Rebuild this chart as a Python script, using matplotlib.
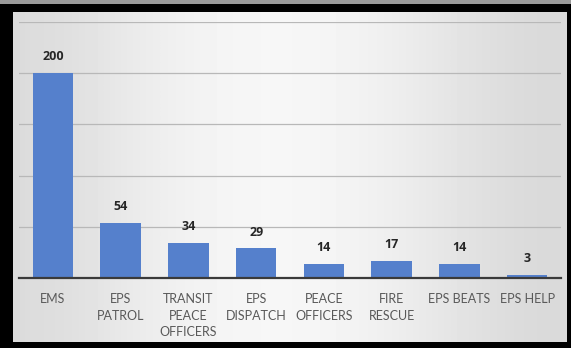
import matplotlib
matplotlib.use("Agg")
import matplotlib.pyplot as plt
from matplotlib.patches import Rectangle
import numpy as np

CATEGORIES = ["EMS", "EPS\nPATROL", "TRANSIT\nPEACE\nOFFICERS", "EPS\nDISPATCH",
              "PEACE\nOFFICERS", "FIRE\nRESCUE", "EPS BEATS", "EPS HELP"]
VALUES = [200, 54, 34, 29, 14, 17, 14, 3]
Y_TICKS = [0, 50, 100, 150, 200, 250]

BAR = "#5580cc"
W, H = 571, 348

plt.rcParams["font.family"] = ["Lato", "DejaVu Sans"]

fig = plt.figure(figsize=(W / 100, H / 100), dpi=100)
fig.patch.set_facecolor("black")

# thin grey strip on top edge, then light-grey panel inside the black frame
fig.patches.append(Rectangle((0, 1 - 4 / H), 1, 4 / H, transform=fig.transFigure,
                             facecolor="#9a9a9a", edgecolor="none", zorder=0))
# subtle horizontal gradient for the panel
grad = np.array([[0.86, 0.92, 0.96, 0.97, 0.95, 0.90, 0.85]])
bg = fig.add_axes([13 / W, 1 - 342 / H, (567 - 13) / W, (342 - 12) / H], zorder=0)
bg.imshow(grad, cmap="gray", vmin=0, vmax=1, aspect="auto",
          interpolation="bicubic", extent=[0, 1, 0, 1])
bg.set_axis_off()

ax = fig.add_axes([19 / W, 1 - 278 / H, (561 - 19) / W, (278 - 22) / H], zorder=1)
ax.patch.set_alpha(0)
x = np.arange(len(VALUES))
bars = ax.bar(x, VALUES, width=0.6, color=BAR, zorder=2)
for b, v in zip(bars, VALUES):
    ax.annotate(f"{v}", (b.get_x() + b.get_width() / 2, v), xytext=(0, 7),
                textcoords="offset points", ha="center", va="bottom",
                fontsize=9, fontweight="bold", color="#262626",
                family=["Open Sans", "DejaVu Sans"])

ax.set_xlim(-0.5, len(VALUES) - 0.5)
ax.set_ylim(0, 250)
ax.set_yticks(Y_TICKS)
ax.set_yticklabels([])
ax.tick_params(axis="y", length=0)
ax.grid(axis="y", color="#b8b8b8", linewidth=0.9, zorder=0)
ax.set_xticks(x)
ax.set_xticklabels(CATEGORIES, fontsize=9, color="#595959", linespacing=1.45)
ax.tick_params(axis="x", length=0, pad=11)
for s in ["top", "right", "left"]:
    ax.spines[s].set_visible(False)
ax.spines["bottom"].set_color("#3a3a3a")
ax.spines["bottom"].set_linewidth(1.6)
ax.spines["bottom"].set_zorder(3)

fig.savefig("out.png", dpi=100, facecolor=fig.get_facecolor())
